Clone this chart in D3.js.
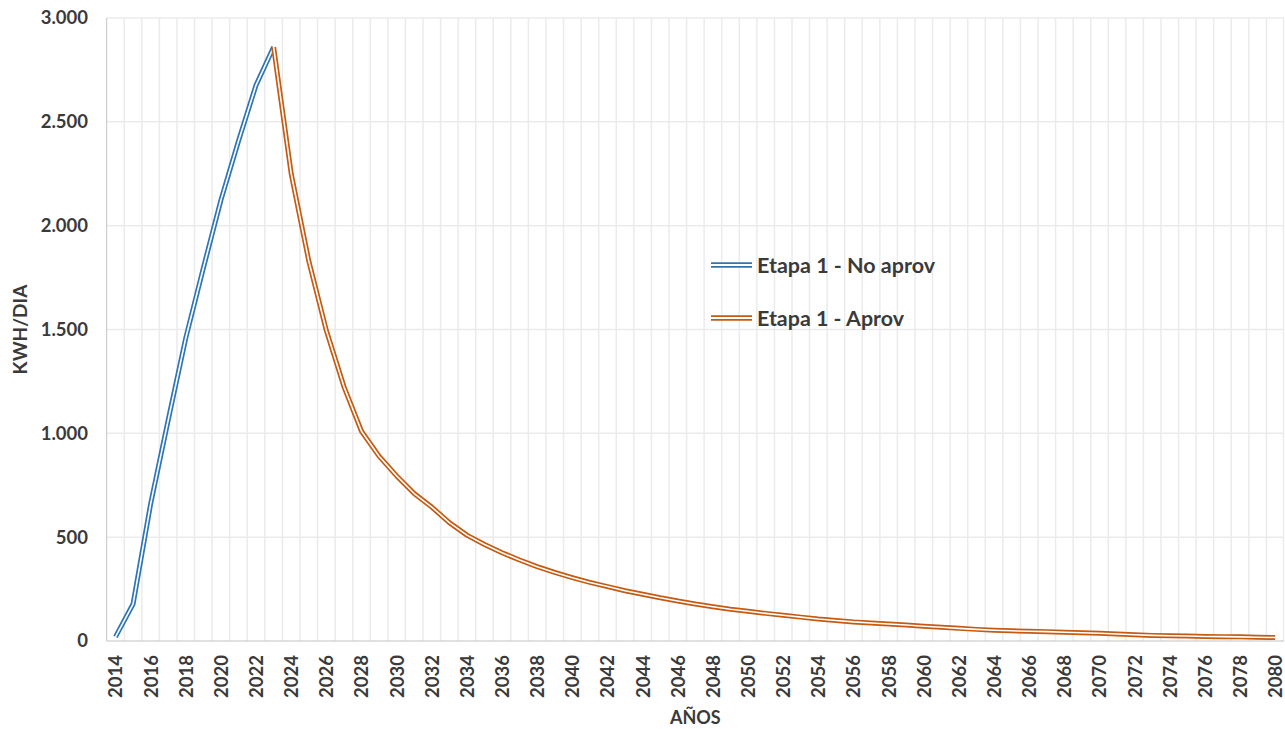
<!DOCTYPE html>
<html>
<head>
<meta charset="utf-8">
<script src="https://cdn.jsdelivr.net/npm/d3@7"></script>
<style>
  html, body { margin: 0; padding: 0; background: #ffffff; }
  svg { display: block; }
  text { font-family: Lato, "Open Sans", sans-serif; fill: #3a3a3a; }
</style>
</head>
<body>
<svg id="chart" width="1285" height="729"></svg>
<script>
// Years on the category axis
const years = d3.range(2014, 2081);

// Daily energy (kWh/día), stage 1 without recovery: 2014–2023
const noAprovYears = [2014, 2015, 2016, 2017, 2018, 2019, 2020, 2021, 2022, 2023];
const noAprovValues = [20, 178, 660, 1064, 1459, 1796, 2123, 2408, 2677, 2860];

// Daily energy (kWh/día), stage 1 with recovery: 2023–2080
const aprovYears = d3.range(2023, 2081);
const aprovValues = [
  2860, 2250, 1830, 1495, 1225, 1010, 890, 795, 710, 645,
  570, 510, 465, 425, 390, 358, 330, 305, 282, 262,
  242, 225, 208, 193, 178, 165, 153, 143, 133, 124,
  115, 106, 99, 92, 87, 82, 77, 71, 66, 61,
  56, 52, 49, 47, 45, 42, 40, 37, 34, 30,
  27, 25, 24, 22, 21, 20, 18, 17
];

// Axis ticks
const yTicks = [0, 500, 1000, 1500, 2000, 2500, 3000];
const yTickLabels = ["0", "500", "1.000", "1.500", "2.000", "2.500", "3.000"];
const xTickYears = years.filter(y => (y - 2014) % 2 === 0);

// Series and legend labels
const seriesNames = ["Etapa 1 - No aprov", "Etapa 1 - Aprov"];
const seriesColors = ["#2E75B6", "#C55A11"];
const yTitle = "KWH/DIA";
const xTitle = "AÑOS";

const svg = d3.select("#chart");
const plot = { left: 106.7, right: 1284, top: 18, bottom: 641 };

const x = d3.scaleBand().domain(years).range([plot.left, plot.right]).paddingInner(0).paddingOuter(0);
const y = d3.scaleLinear().domain([0, 3000]).range([plot.bottom, plot.top]);
const cx = yr => x(yr) + x.bandwidth() / 2;

// Vertical gridlines at category boundaries
const gridG = svg.append("g");
gridG.selectAll("line.vg")
  .data(years.slice(1).concat([null]))
  .join("line")
  .attr("class", "vg")
  .attr("x1", d => d === null ? plot.right - 0.5 : x(d))
  .attr("x2", d => d === null ? plot.right - 0.5 : x(d))
  .attr("y1", plot.top)
  .attr("y2", plot.bottom)
  .attr("stroke", "#ebebeb")
  .attr("stroke-width", 1.5);

// Horizontal gridlines
gridG.selectAll("line.hg")
  .data(yTicks.filter(v => v > 0))
  .join("line")
  .attr("class", "hg")
  .attr("x1", plot.left)
  .attr("x2", plot.right)
  .attr("y1", d => y(d))
  .attr("y2", d => y(d))
  .attr("stroke", "#ebebeb")
  .attr("stroke-width", 1.5);

// Axis lines
svg.append("line")
  .attr("x1", plot.left).attr("x2", plot.left)
  .attr("y1", plot.top).attr("y2", plot.bottom)
  .attr("stroke", "#c4c4c4").attr("stroke-width", 1);
svg.append("line")
  .attr("x1", plot.left).attr("x2", plot.right)
  .attr("y1", plot.bottom).attr("y2", plot.bottom)
  .attr("stroke", "#c4c4c4").attr("stroke-width", 1.2);

// Y tick labels
svg.append("g").selectAll("text")
  .data(yTicks)
  .join("text")
  .attr("x", 88)
  .attr("y", d => y(d))
  .attr("dy", "0.35em")
  .attr("text-anchor", "end")
  .style("font-size", "18.5px")
  .style("font-weight", "bold")
  .text((d, i) => yTickLabels[i]);

// X tick labels, rotated
svg.append("g").selectAll("text")
  .data(xTickYears)
  .join("text")
  .attr("transform", d => `translate(${cx(d) + 7},655) rotate(-90)`)
  .attr("text-anchor", "end")
  .style("font-size", "18.5px")
  .style("font-weight", "bold")
  .text(d => d);

// Axis titles
svg.append("text")
  .attr("transform", `translate(27,${(plot.top + plot.bottom) / 2}) rotate(-90)`)
  .attr("text-anchor", "middle")
  .style("font-size", "19px")
  .style("font-weight", "bold")
  .text(yTitle);
svg.append("text")
  .attr("x", (plot.left + plot.right) / 2)
  .attr("y", 724)
  .attr("text-anchor", "middle")
  .style("font-size", "18px")
  .style("font-weight", "bold")
  .text(xTitle);

// Double-stroke series lines
const line = d3.line().x(d => cx(d[0])).y(d => y(d[1]));
const series = [
  d3.zip(noAprovYears, noAprovValues),
  d3.zip(aprovYears, aprovValues)
];
const linesG = svg.append("g");
series.forEach((pts, i) => {
  linesG.append("path")
    .attr("d", line(pts))
    .attr("fill", "none")
    .attr("stroke", seriesColors[i])
    .attr("stroke-width", 5)
    .attr("stroke-linejoin", "round");
  linesG.append("path")
    .attr("d", line(pts))
    .attr("fill", "none")
    .attr("stroke", "#ffffff")
    .attr("stroke-width", 1.6)
    .attr("stroke-linejoin", "round");
});

// Legend
const legendRows = [265, 318];
const legendWidths = [178, 147];
const legendG = svg.append("g");
seriesNames.forEach((name, i) => {
  const ly = legendRows[i];
  legendG.append("line")
    .attr("x1", 711).attr("x2", 752).attr("y1", ly).attr("y2", ly)
    .attr("stroke", seriesColors[i]).attr("stroke-width", 5.5);
  legendG.append("line")
    .attr("x1", 711).attr("x2", 752).attr("y1", ly).attr("y2", ly)
    .attr("stroke", "#ffffff").attr("stroke-width", 1.8);
  legendG.append("text")
    .attr("x", 757)
    .attr("y", ly + 7.5)
    .attr("textLength", legendWidths[i])
    .attr("lengthAdjust", "spacingAndGlyphs")
    .style("font-size", "20px")
    .style("font-weight", "bold")
    .text(name);
});
</script>
</body>
</html>
